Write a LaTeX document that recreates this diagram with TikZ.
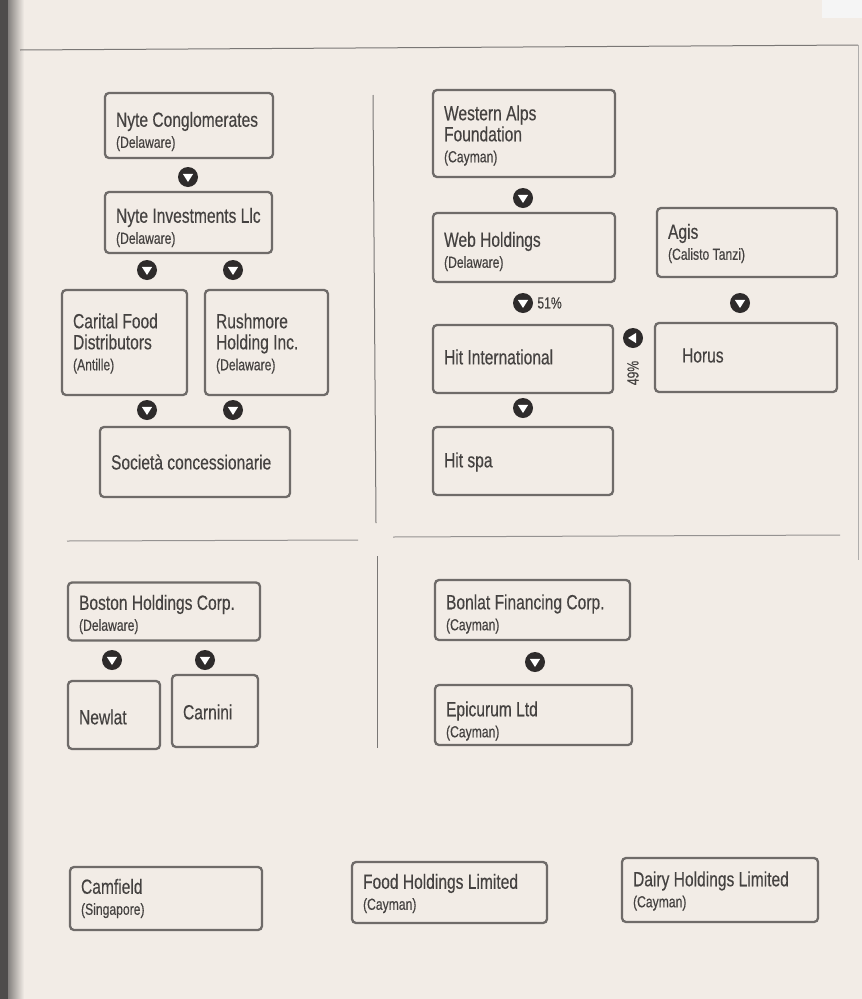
\documentclass[tikz,border=0pt]{standalone}
\usepackage{fontspec}
\setmainfont{Liberation Sans}[FakeStretch=0.76,FakeBold=0.35]
\definecolor{bgc}{HTML}{F2ECE6}
\definecolor{boxc}{HTML}{6F6B69}
\definecolor{txtc}{HTML}{454241}
\definecolor{dotc}{HTML}{2E2B2B}
\definecolor{linec}{HTML}{7A7775}
\definecolor{edgec}{HTML}{4E4C4B}
\newcommand{\mainf}{\fontsize{20.5}{21}\selectfont}
\newcommand{\jur}{\fontsize{16}{18}\selectfont}
\tikzset{
  ent/.style={draw=boxc, line width=2.3pt, rounded corners=4pt, fill=bgc, inner sep=0pt},
  lbl/.style={anchor=west, align=left, inner sep=0pt, text=txtc, font=\mainf},
  dn/.style={circle, fill=dotc, minimum size=20pt, inner sep=0pt,
    path picture={\fill[white]
      ([xshift=-5.2pt,yshift=3.2pt]path picture bounding box.center) --
      ([xshift=5.2pt,yshift=3.2pt]path picture bounding box.center) --
      ([yshift=-5pt]path picture bounding box.center) -- cycle;}},
  lf/.style={circle, fill=dotc, minimum size=20pt, inner sep=0pt,
    path picture={\fill[white]
      ([xshift=3.2pt,yshift=5.2pt]path picture bounding box.center) --
      ([xshift=3.2pt,yshift=-5.2pt]path picture bounding box.center) --
      ([xshift=-5pt]path picture bounding box.center) -- cycle;}},
  pct/.style={text=txtc, font=\fontsize{16}{18}\selectfont, inner sep=0pt},
  rule/.style={draw=linec, line width=1pt},
  sep/.style={draw=linec!80, line width=1pt}
}
\begin{document}
\begin{tikzpicture}[x=1pt,y=-1pt]
\useasboundingbox (0,0) rectangle (862,999);
\fill[bgc] (0,0) rectangle (862,999);
\shade[left color=edgec, right color=bgc] (0,0) rectangle (24,999);
\fill[edgec] (0,0) rectangle (8,999);
\fill[white!92!gray] (822,0) rectangle (862,18);

% frame and separators
\coordinate (tl) at (20,50);
\coordinate (tr) at (858,45);
\coordinate (rb) at (858,560);
\draw[rule] (tl) -- (tr);
\draw[draw=linec!60, line width=0.8pt] (tr) -- (rb);
\coordinate (v1a) at (373,95);
\coordinate (v1b) at (376,523);
\draw[rule] (v1a) -- (v1b);
\coordinate (v2a) at (377,556);
\coordinate (v2b) at (377,748);
\draw[rule] (v2a) -- (v2b);
\coordinate (h1a) at (67,541);
\coordinate (h1b) at (358,540);
\draw[sep] (h1a) -- (h1b);
\coordinate (h2a) at (393,537);
\coordinate (h2b) at (840,535);
\draw[sep] (h2a) -- (h2b);

% upper left group
\node[ent, minimum width=168pt, minimum height=65pt] (nc) at (189,125.5) {};
\node[lbl] (ncT) at ([xshift=12pt,yshift=-6pt]nc.west) {Nyte Conglomerates\\{\jur (Delaware)}};
\node[ent, minimum width=167pt, minimum height=61pt] (ni) at (188.5,222.5) {};
\node[lbl] (niT) at ([xshift=12pt,yshift=-5pt]ni.west) {Nyte Investments Llc\\{\jur (Delaware)}};
\node[ent, minimum width=125pt, minimum height=105pt] (cf) at (124.5,342.5) {};
\node[lbl] (cfT) at ([xshift=12pt,yshift=-1pt]cf.west) {Carital Food\\Distributors\\{\jur (Antille)}};
\node[ent, minimum width=123pt, minimum height=105pt] (rh) at (266.5,342.5) {};
\node[lbl] (rhT) at ([xshift=12pt,yshift=-1pt]rh.west) {Rushmore\\Holding Inc.\\{\jur (Delaware)}};
\node[ent, minimum width=190pt, minimum height=70pt] (sc) at (195,462) {};
\node[lbl] (scT) at ([xshift=12pt]sc.west) {Società concessionarie};

\node[dn] (a1) at (188,177) {};
\node[dn] (a2) at (147,270) {};
\node[dn] (a3) at (233,270) {};
\node[dn] (a4) at (147,410) {};
\node[dn] (a5) at (233,410) {};

% upper right group
\node[ent, minimum width=182pt, minimum height=87pt] (wa) at (524,133.5) {};
\node[lbl] (waT) at ([xshift=12pt,yshift=-2pt]wa.west) {Western Alps\\Foundation\\{\jur (Cayman)}};
\node[ent, minimum width=182pt, minimum height=69pt] (wh) at (524,247.5) {};
\node[lbl] (whT) at ([xshift=12pt,yshift=-4pt]wh.west) {Web Holdings\\{\jur (Delaware)}};
\node[ent, minimum width=180pt, minimum height=69pt] (ag) at (747,242.5) {};
\node[lbl] (agT) at ([xshift=12pt,yshift=-1pt]ag.west) {Agis\\{\jur (Calisto Tanzi)}};
\node[ent, minimum width=180pt, minimum height=68pt] (hi) at (523,359) {};
\node[lbl] (hiT) at ([xshift=12pt,yshift=2pt]hi.west) {Hit International};
\node[ent, minimum width=182pt, minimum height=69pt] (ho) at (746,357.5) {};
\node[lbl] (hoT) at ([xshift=28pt,yshift=2pt]ho.west) {Horus};
\node[ent, minimum width=180pt, minimum height=68pt] (hs) at (523,461) {};
\node[lbl] (hsT) at ([xshift=12pt,yshift=-1pt]hs.west) {Hit spa};

\node[dn] (b1) at (523,198) {};
\node[dn] (b2) at (523,303) {};
\node[pct, anchor=west] (p51) at ([xshift=4pt]b2.east) {51\%};
\node[dn] (b3) at (740,303) {};
\node[lf] (b4) at (633,338) {};
\node[pct, rotate=90] (p49) at (633,373) {49\%};
\node[dn] (b5) at (523,408) {};

% lower left group
\node[ent, minimum width=192pt, minimum height=58pt] (bh) at (164,611.5) {};
\node[lbl] (bhT) at ([xshift=12pt,yshift=-3pt]bh.west) {Boston Holdings Corp.\\{\jur (Delaware)}};
\node[ent, minimum width=92pt, minimum height=68pt] (nl) at (114,715) {};
\node[lbl] (nlT) at ([xshift=12pt,yshift=-2pt]nl.west) {Newlat};
\node[ent, minimum width=86pt, minimum height=72pt] (cn) at (215,711) {};
\node[lbl] (cnT) at ([xshift=12pt,yshift=-1pt]cn.west) {Carnini};
\node[dn] (c1) at (112,660) {};
\node[dn] (c2) at (205,660) {};

% lower right group
\node[ent, minimum width=195pt, minimum height=60pt] (bf) at (532.5,610) {};
\node[lbl] (bfT) at ([xshift=12pt,yshift=-4pt]bf.west) {Bonlat Financing Corp.\\{\jur (Cayman)}};
\node[ent, minimum width=197pt, minimum height=60pt] (ep) at (533.5,715) {};
\node[lbl] (epT) at ([xshift=12pt,yshift=-6pt]ep.west) {Epicurum Ltd\\{\jur (Cayman)}};
\node[dn] (d1) at (535,662) {};

% bottom row
\node[ent, minimum width=192pt, minimum height=63pt] (cm) at (166,898.5) {};
\node[lbl] (cmT) at ([xshift=12pt,yshift=0pt]cm.west) {Camfield\\{\jur (Singapore)}};
\node[ent, minimum width=195pt, minimum height=61pt] (fh) at (449.5,892.5) {};
\node[lbl] (fhT) at ([xshift=12pt,yshift=-1pt]fh.west) {Food Holdings Limited\\{\jur (Cayman)}};
\node[ent, minimum width=196pt, minimum height=64pt] (dh) at (720,890) {};
\node[lbl] (dhT) at ([xshift=12pt,yshift=-1pt]dh.west) {Dairy Holdings Limited\\{\jur (Cayman)}};
\end{tikzpicture}
\end{document}
